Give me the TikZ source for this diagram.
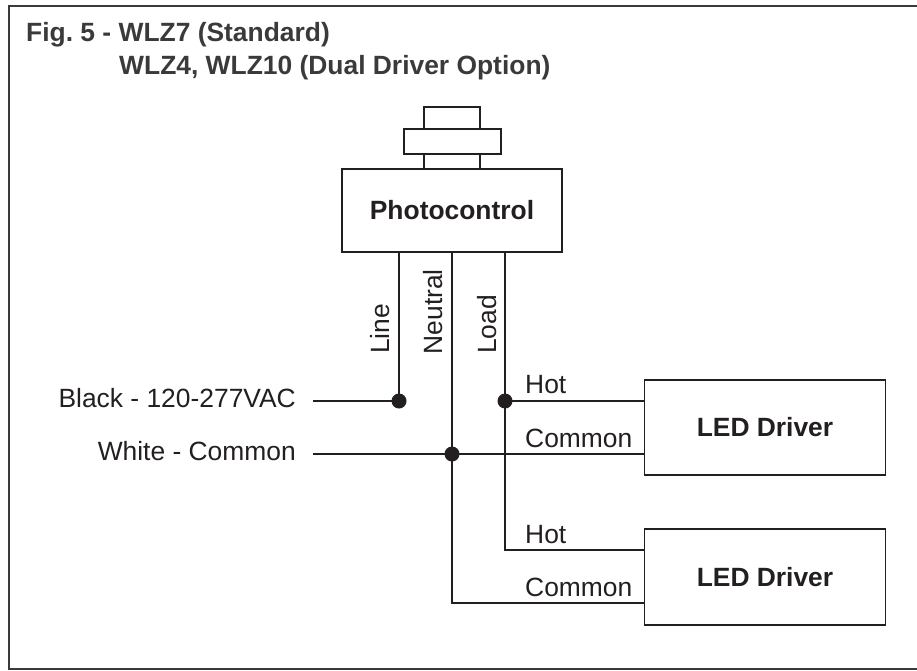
\documentclass[tikz,border=0pt]{standalone}
\usepackage{fontspec}
\setmainfont{Liberation Sans}
\usepackage{tikz}
\definecolor{inkc}{HTML}{231F20}
\definecolor{titlec}{HTML}{3A3A3A}

\begin{document}
\frenchspacing
\begin{tikzpicture}[x=1pt,y=-1pt]
    \tikzset{block/.style = {shape=rectangle,draw=inkc,line width=1.4pt,inner sep=0pt,text=inkc,font=\fontsize{26.4}{30}\selectfont\bfseries}}
    \tikzset{junction/.style = {shape=circle,fill=inkc,inner sep=0pt,minimum size=15pt}}
    \tikzset{wire/.style = {draw=inkc,line width=1.4pt}}
    \tikzset{label/.style = {text=inkc,inner sep=0pt,font=\fontsize{26.4}{30}\selectfont}}
    \tikzset{heading/.style = {text=titlec,inner sep=0pt,anchor=base west,font=\fontsize{26.4}{30}\selectfont\bfseries}}
    \useasboundingbox (0,0) rectangle (917,671);
    % frame
    \coordinate (frametr) at (917,6);
    \coordinate (frametl) at (9,6);
    \coordinate (framebl) at (9,669);
    \coordinate (framebr) at (917,669);
    \draw[titlec,line width=1.4pt] (frametr) -- (frametl) -- (framebl) -- (framebr);
    \node[heading] (figa) at (26,41.5) {Fig. 5 - WLZ7 (Standard)};
    \node[heading] (figb) at (119,75) {WLZ4, WLZ10 (Dual Driver Option)};
    % blocks
    \node[block,minimum width=56pt,minimum height=62pt] (cap) at (452,138) {};
    \node[block,fill=white,minimum width=97pt,minimum height=25pt] (collar) at (452.5,141.5) {};
    \node[block,fill=white,minimum width=220pt,minimum height=83pt] (photo) at (452,210.5) {Photocontrol};
    \node[block,minimum width=241pt,minimum height=95pt] (drva) at (765,427.5) {LED Driver};
    \node[block,minimum width=241pt,minimum height=96pt] (drvb) at (765,577) {LED Driver};
    % junctions
    \node[junction] (jline) at (399,401) {};
    \node[junction] (jneut) at (452,454) {};
    \node[junction] (jload) at (505,401) {};
    \coordinate (black) at (313,401);
    \coordinate (white) at (313,454);
    \coordinate (lineup) at (399,252);
    \coordinate (neutup) at (452,252);
    \coordinate (loadup) at (505,252);
    \coordinate (hota) at (644,401);
    \coordinate (coma) at (644,454);
    \coordinate (hotb) at (644,550);
    \coordinate (comb) at (644,603);
    %edges
    \path[wire] (lineup) -- (jline.center);
    \path[wire] (neutup) -- (jneut.center);
    \path[wire] (loadup) -- (jload.center);
    \path[wire] (black) -- (jline.center);
    \path[wire] (white) -- (jneut.center);
    \path[wire] (jneut.center) -- (coma);
    \path[wire] (jload.center) -- (hota);
    \path[wire] (jload.center) |- (hotb);
    \path[wire] (jneut.center) |- (comb);
    % labels
    \node[label,anchor=base east] (lblack) at (296,407) {Black - 120-277VAC};
    \node[label,anchor=base east] (lwhite) at (296,460) {White - Common};
    \node[label,anchor=base west,rotate=90] (lline) at (389.5,354) {Line};
    \node[label,anchor=base west,rotate=90] (lneut) at (442.5,354.5) {Neutral};
    \node[label,anchor=base west,rotate=90] (lload) at (496.5,354) {Load};
    \node[label,anchor=base west] (hlabela) at (525,393.5) {Hot};
    \node[label,anchor=base west] (clabela) at (525,447.5) {Common};
    \node[label,anchor=base west] (hlabelb) at (525,543) {Hot};
    \node[label,anchor=base west] (clabelb) at (525,596) {Common};
\end{tikzpicture}
\end{document}
